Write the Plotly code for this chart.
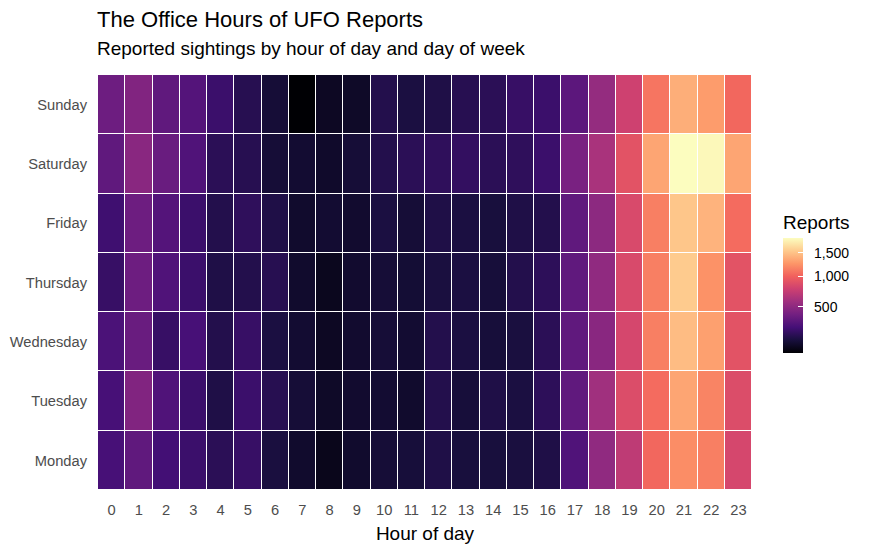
import numpy as np
import plotly.graph_objects as go

# Hour of day and weekday labels
hours = list(range(24))
days = ["Monday", "Tuesday", "Wednesday", "Thursday", "Friday", "Saturday", "Sunday"]

# Reported sightings per hour
monday = [268, 340, 257, 235, 194, 224, 153, 124, 99, 124, 140, 144, 166, 149, 149, 153, 166, 291, 512, 699, 1025, 1210, 1139, 814]
tuesday = [268, 451, 291, 235, 166, 235, 184, 140, 117, 128, 132, 124, 175, 144, 166, 157, 199, 340, 576, 854, 1047, 1334, 1162, 854]
wednesday = [279, 367, 224, 268, 175, 224, 157, 132, 109, 128, 140, 132, 175, 157, 144, 153, 194, 340, 481, 814, 1139, 1464, 1309, 895]
thursday = [224, 380, 291, 235, 166, 175, 184, 124, 102, 128, 140, 136, 153, 157, 144, 175, 199, 340, 512, 834, 1139, 1545, 1234, 895]
friday = [246, 380, 303, 235, 175, 204, 166, 124, 132, 128, 157, 140, 166, 157, 149, 166, 175, 340, 496, 834, 1139, 1518, 1411, 1047]
saturday = [340, 481, 367, 291, 194, 184, 140, 132, 121, 140, 175, 194, 204, 214, 194, 204, 235, 422, 611, 895, 1334, 1860, 1830, 1334]
sunday = [380, 451, 340, 303, 235, 184, 140, 70, 109, 117, 175, 157, 166, 184, 194, 224, 235, 328, 528, 775, 1092, 1385, 1284, 1025]

legend_ticks = [500, 1000, 1500]
legend_labels = ["500", "1,000", "1,500"]

counts = np.array([monday, tuesday, wednesday, thursday, friday, saturday, sunday], dtype=float)

# colour scale is square-root transformed, like scale_fill_viridis(trans="sqrt")
z = np.sqrt(counts)

fig = go.Figure(go.Heatmap(
    x=hours,
    y=days,
    z=z,
    customdata=counts,
    colorscale="Magma",
    zmin=z.min(),
    zmax=z.max(),
    xgap=1,
    ygap=1,
    hovertemplate="%{y}, %{x}h: %{customdata}<extra></extra>",
    colorbar=dict(
        title=dict(text="Reports", side="top", font=dict(size=19, color="black")),
        tickvals=np.sqrt(legend_ticks),
        ticktext=["  " + s for s in legend_labels],
        tickfont=dict(size=14, color="black"),
        ticks="inside",
        tickcolor="white",
        ticklen=5,
        thickness=20,
        lenmode="pixels",
        len=141,
        x=1.0474,
        xanchor="left",
        xpad=0,
        ypad=0,
        y=0.330,
        yanchor="bottom",
        outlinewidth=0,
    ),
))

# page body has an 8px margin, so the figure is 8px smaller than the window
fig.update_layout(
    width=861,
    height=543,
    margin=dict(l=90, r=117, t=67, b=61),
    paper_bgcolor="white",
    plot_bgcolor="white",
    font=dict(family="Liberation Sans, Arial, sans-serif", size=14.7, color="#4d4d4d"),
    xaxis=dict(
        title=dict(text="Hour of day", font=dict(size=19, color="black"), standoff=9),
        tickmode="array",
        tickvals=hours,
        ticks="",
        ticklabelstandoff=9,
        showgrid=False,
        zeroline=False,
        automargin=False,
    ),
    yaxis=dict(
        ticks="",
        ticklabelstandoff=10,
        showgrid=False,
        zeroline=False,
        automargin=False,
    ),
    annotations=[
        dict(text="The Office Hours of UFO Reports", x=-3 / 654, y=(482 - 12) / 415,
             xref="paper", yref="paper", xanchor="left", yanchor="middle", showarrow=False,
             font=dict(size=22, color="black")),
        dict(text="Reported sightings by hour of day and day of week", x=-3 / 654, y=(482 - 40) / 415,
             xref="paper", yref="paper", xanchor="left", yanchor="middle", showarrow=False,
             font=dict(size=19, color="black")),
    ],
)

fig.write_html("out.html")
